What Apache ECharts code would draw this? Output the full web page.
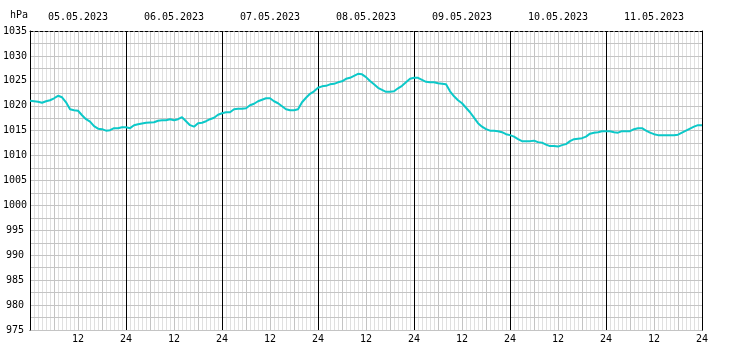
<!DOCTYPE html>
<html>
<head>
<meta charset="utf-8">
<script src="https://cdn.jsdelivr.net/npm/echarts@6/dist/echarts.min.js"></script>
<style>
html,body{margin:0;padding:0;background:#fff;}
#chart{width:732px;height:360px;}
</style>
</head>
<body>
<div id="chart"></div>
<script>
// Hourly pressure readings (hPa), hour 0 .. 168 from 05.05.2023 00:00
var pressureValues = [
 1021.0,1020.9,1020.8,1020.6,1020.9,1021.1,1021.5,1022.0,1021.7,1020.7,
 1019.3,1019.1,1019.0,1018.1,1017.3,1016.8,1015.9,1015.4,1015.3,1015.0,
 1015.1,1015.5,1015.5,1015.7,1015.7,1015.5,1016.1,1016.3,1016.45,1016.6,
 1016.65,1016.7,1017.0,1017.1,1017.1,1017.3,1017.1,1017.3,1017.7,1016.9,
 1016.1,1015.8,1016.5,1016.6,1016.9,1017.3,1017.6,1018.2,1018.5,1018.7,
 1018.7,1019.3,1019.4,1019.4,1019.5,1020.1,1020.4,1020.9,1021.2,1021.5,
 1021.5,1020.9,1020.5,1019.9,1019.3,1019.1,1019.1,1019.3,1020.7,1021.6,
 1022.4,1022.9,1023.6,1023.9,1024.0,1024.3,1024.4,1024.7,1024.9,1025.4,
 1025.6,1026.0,1026.4,1026.3,1025.75,1024.95,1024.3,1023.6,1023.2,1022.8,
 1022.8,1022.9,1023.5,1024.0,1024.7,1025.4,1025.6,1025.6,1025.2,1024.8,
 1024.7,1024.7,1024.5,1024.4,1024.3,1022.9,1021.9,1021.1,1020.5,1019.6,
 1018.7,1017.6,1016.5,1015.8,1015.3,1015.0,1015.0,1014.9,1014.7,1014.3,
 1014.1,1013.8,1013.3,1012.9,1012.9,1012.9,1013.0,1012.7,1012.6,1012.2,
 1011.9,1011.9,1011.8,1012.1,1012.3,1012.9,1013.3,1013.4,1013.5,1013.8,
 1014.4,1014.6,1014.7,1014.9,1014.9,1014.9,1014.7,1014.6,1014.9,1014.9,
 1014.9,1015.3,1015.5,1015.5,1015.0,1014.6,1014.3,1014.1,1014.1,1014.1,
 1014.1,1014.1,1014.2,1014.6,1015.0,1015.4,1015.8,1016.1,1016.1
];
var dayLabels = ['05.05.2023','06.05.2023','07.05.2023','08.05.2023','09.05.2023','10.05.2023','11.05.2023'];
var unitLabel = 'hPa';
var yMin = 975, yMax = 1035;
var hourMax = 168;

var FONT = 'DejaVu Sans Mono';
var seriesData = pressureValues.map(function (v, i) { return [i, v]; });

var chart = echarts.init(document.getElementById('chart'), null, {renderer: 'canvas'});
chart.setOption({
  animation: false,
  backgroundColor: '#ffffff',
  grid: {left: 30, right: 30, top: 31, height: 299, containLabel: false},
  graphic: [{
    type: 'text', left: 10, top: 10,
    style: {text: unitLabel, font: '10px "' + FONT + '"', fill: '#000'}
  }],
  xAxis: [{
    type: 'value', position: 'bottom', min: 0, max: hourMax, interval: 6, z: 0,
    axisLine: {show: true, onZero: false, lineStyle: {color: '#000', width: 1, type: [3, 2]}},
    axisTick: {show: false},
    minorTick: {show: false, splitNumber: 6},
    axisLabel: {
      show: true, margin: 4, color: '#000', fontFamily: FONT, fontSize: 10,
      formatter: function (v) {
        if (v === 0) return '';
        if (v % 24 === 0) return '24';
        if (v % 12 === 0) return '12';
        return '';
      }
    },
    splitLine: {show: true, lineStyle: {color: '#c4c4c4', width: 1}},
    minorSplitLine: {show: true, lineStyle: {color: '#e0e0e0', width: 1}}
  }, {
    type: 'category', position: 'top', data: dayLabels, boundaryGap: true, z: 1,
    axisLine: {show: true, lineStyle: {color: '#000', width: 1, type: [3, 2]}},
    axisTick: {show: false},
    axisLabel: {show: true, margin: 9, color: '#000', fontFamily: FONT, fontSize: 10, interval: 0},
    splitLine: {show: true, interval: 0, lineStyle: {color: '#000', width: 1}}
  }],
  yAxis: [{
    type: 'value', min: yMin, max: yMax, interval: 2.5, position: 'left', z: 1,
    axisLine: {show: true, lineStyle: {color: '#000', width: 1}},
    axisTick: {show: false},
    axisLabel: {
      show: true, margin: 15, align: 'center', color: '#000', fontFamily: FONT, fontSize: 10,
      formatter: function (v) { return (v % 5 === 0) ? String(v) : ''; }
    },
    splitLine: {show: true, lineStyle: {color: '#c4c4c4', width: 1}}
  }, {
    type: 'value', min: yMin, max: yMax, interval: 5, position: 'right', z: 1,
    axisLine: {show: true, lineStyle: {color: '#000', width: 1}},
    axisTick: {show: false}, axisLabel: {show: false}, splitLine: {show: false}
  }],
  series: [{
    type: 'line', xAxisIndex: 0, yAxisIndex: 0, data: seriesData,
    showSymbol: false, smooth: false, z: 3,
    lineStyle: {color: '#0cc8c8', width: 2}
  }]
});
</script>
</body>
</html>
